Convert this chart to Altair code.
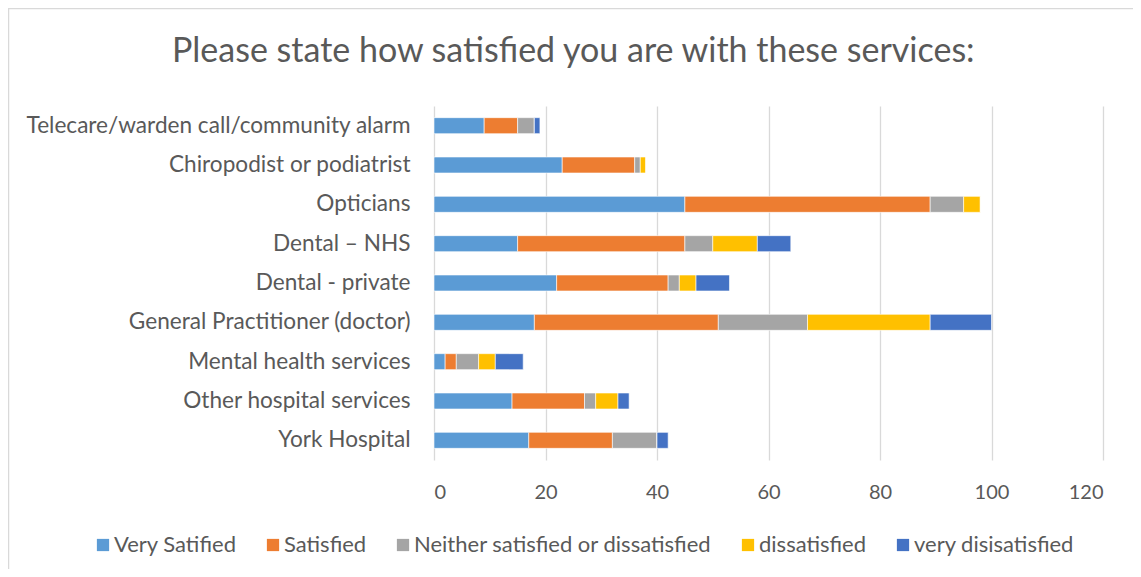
import altair as alt
import pandas as pd

services = [
    "Telecare/warden call/community alarm",
    "Chiropodist or podiatrist",
    "Opticians",
    "Dental \u2013 NHS",
    "Dental - private",
    "General Practitioner (doctor)",
    "Mental health services",
    "Other hospital services",
    "York Hospital ",
]
levels = ["Very Satified", "Satisfied", "Neither satisfied or dissatisfied",
          "dissatisfied", "very disisatisfied"]
colors = ["#5B9BD5", "#ED7D31", "#A5A5A5", "#FFC000", "#4472C4"]

very_satisfied = [9, 23, 45, 15, 22, 18, 2, 14, 17]
satisfied = [6, 13, 44, 30, 20, 33, 2, 13, 15]
neither = [3, 1, 6, 5, 2, 16, 4, 2, 8]
dissatisfied = [0, 1, 3, 8, 3, 22, 3, 4, 0]
very_dissatisfied = [1, 0, 0, 6, 6, 11, 5, 2, 2]

series = [very_satisfied, satisfied, neither, dissatisfied, very_dissatisfied]
rows = []
for li, (lev, vals) in enumerate(zip(levels, series)):
    for s, v in zip(services, vals):
        rows.append({"service": s, "level": lev, "order": li, "value": v})
df = pd.DataFrame(rows)

FONT = "Lato"
GREY = "#595959"

bars = alt.Chart(df).mark_bar(size=16, stroke="white", strokeWidth=0.6).encode(
    y=alt.Y("service:N", sort=services,
            scale=alt.Scale(paddingInner=0, paddingOuter=0),
            axis=alt.Axis(title=None, ticks=False, domain=False, labelFontSize=22.6,
                          labelFont=FONT, labelColor=GREY, labelPadding=24,
                          labelLimit=500)),
    x=alt.X("value:Q", stack="zero",
            scale=alt.Scale(domain=[0, 120], nice=False),
            axis=alt.Axis(title=None, values=[0, 20, 40, 60, 80, 100, 120],
                          ticks=False, domain=False, grid=True, gridColor="#D9D9D9",
                          gridWidth=1.3, labelFontSize=20, labelFont=FONT,
                          labelColor=GREY, labelPadding=22)),
    color=alt.Color("level:N", sort=levels,
                    scale=alt.Scale(domain=levels, range=colors),
                    legend=alt.Legend(title=None, orient="none", direction="horizontal",
                                      legendX=-342, legendY=428, columns=5,
                                      symbolType="square", symbolSize=150,
                                      symbolStrokeWidth=0, labelFontSize=22,
                                      labelFont=FONT, labelColor=GREY,
                                      labelOffset=0, columnPadding=25,
                                      labelLimit=500)),
    order=alt.Order("order:Q"),
)

border = alt.Chart(pd.DataFrame({"k": [0]})).mark_rect(
    fillOpacity=0, stroke="#D9D9D9", strokeWidth=1.5, clip=False
).encode(x=alt.value(-425.5), x2=alt.value(720), y=alt.value(-97.5), y2=alt.value(480))

chart = alt.layer(border, bars).properties(
    width=669, height=354,
    padding={"left": 426, "top": 98, "right": 30, "bottom": 109},
    autosize=alt.AutoSizeParams(type="none"),
    title=alt.TitleParams(
        "Please state how satisfied you are with these services:",
        anchor="start", frame="group", dx=-262, dy=61.5, offset=0,
        fontSize=34, font=FONT, fontWeight="normal", color=GREY),
).configure_view(stroke=None)

chart.save("out.html", embed_options={"renderer": "svg", "actions": False})
